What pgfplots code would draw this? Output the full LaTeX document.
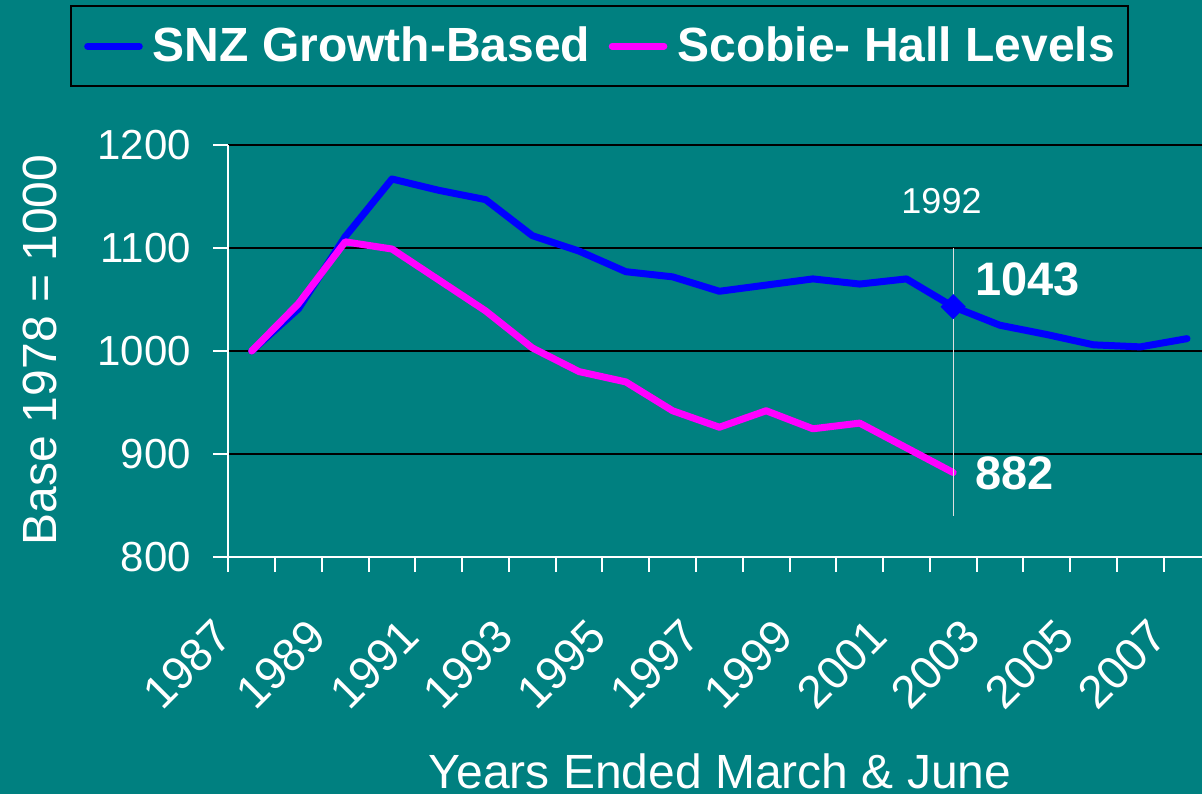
\documentclass[border=0pt]{standalone}
\usepackage{fontspec}
\setmainfont{Liberation Sans}
\usepackage{pgfplots}
\pgfplotsset{compat=1.18}
\definecolor{bgteal}{RGB}{0,128,128}
\definecolor{snzblue}{RGB}{0,0,255}
\definecolor{shpink}{RGB}{255,0,255}
\begin{document}
\begin{tikzpicture}
\fill[bgteal] (0,0) rectangle (601pt,397pt);
\begin{axis}[
  at={(114.15pt,118.5pt)}, anchor=south west,
  scale only axis, width=486.85pt, height=206pt,
  xmin=-0.5, xmax=20.32, ymin=800, ymax=1200,
  axis x line*=bottom, axis y line*=left,
  axis line style={white, line width=1pt, -},
  /pgf/number format/assume math mode=true,
  /pgf/number format/1000 sep={},
  ytick={800,900,...,1200},
  ymajorgrids, grid style={black, line width=1pt},
  xtick={-0.5,0.5,...,19.5}, xticklabels={},
  extra x ticks={0,2,...,20},
  extra x tick labels={1987,1989,1991,1993,1995,1997,1999,2001,2003,2005,2007},
  extra x tick style={major tick length=0pt, grid=none,
    xticklabel style={xshift=-14pt, yshift=-35.5pt, rotate=45, anchor=east, inner sep=0pt, font=\fontsize{23}{23}\selectfont}},
  tick align=outside, major tick length=7.5pt,
  tick style={white, line width=1pt},
  ticklabel style={text=white, font=\fontsize{21}{21}\selectfont},
  yticklabel style={anchor=east, inner sep=0pt, xshift=-11pt},
  ylabel={Base 1978 = 1000},
  ylabel style={at={(axis description cs:-0.1934,0.502)}, anchor=center, inner sep=0pt, text=white, font=\fontsize{24}{24}\selectfont},
  xlabel={Years Ended March \& June},
  xlabel style={at={(axis description cs:0.505,-0.52)}, anchor=center, inner sep=0pt, text=white, font=\fontsize{24}{24}\selectfont},
  legend columns=2,
  legend style={at={(axis description cs:-0.1626,1.3398)}, anchor=north west,
    draw=black, line width=1.2pt, fill=bgteal, inner xsep=6.5pt, inner ysep=10.5pt,
    column sep=0pt, cells={anchor=center},
    nodes={inner sep=0pt, text=white, font=\bfseries\fontsize{24}{24}\selectfont},
    /tikz/every odd column/.append style={column sep=5pt},
    /tikz/every even column/.append style={column sep=9.3pt}},
  legend image code/.code={\draw[#1, line width=3.5pt, line cap=round] (1.75pt,0pt) -- (27.55pt,0pt);},
]
\addplot[snzblue, line width=3.5pt, line cap=round, line join=round] coordinates {
 (0,1000) (1,1041) (2,1111) (3,1167) (4,1156) (5,1147) (6,1112) (7,1097)
 (8,1077) (9,1072) (10,1058) (11,1064) (12,1070) (13,1065) (14,1070)
 (15,1043) (16,1025) (17,1016) (18,1006) (19,1004) (20,1012)};
\addlegendentry{SNZ Growth-Based}
\addplot[shpink, line width=3.5pt, line cap=round, line join=round] coordinates {
 (0,1000) (1,1046) (2,1106) (3,1099) (4,1069) (5,1039) (6,1003) (7,980)
 (8,970) (9,942) (10,926) (11,942) (12,924.5) (13,930) (14,906) (15,882)};
\addlegendentry{Scobie- Hall Levels}
\addplot[snzblue, only marks, mark=square*, mark size=4.24pt, mark options={rotate=45}, forget plot] coordinates {(15,1043)};
\addplot[white!75!gray, line width=0.5pt, forget plot] coordinates {(15,1100) (15,840)};
\node[anchor=west, inner sep=0pt, text=white, font=\bfseries\fontsize{23.5}{23.5}\selectfont] at (axis cs:15.47,1070) {1043};
\node[anchor=west, inner sep=0pt, text=white, font=\bfseries\fontsize{23.5}{23.5}\selectfont] at (axis cs:15.47,881) {882};
\node[anchor=center, inner sep=0pt, text=white, font=\fontsize{18}{18}\selectfont] at (axis cs:14.75,1145.5) {1992};
\end{axis}
\pgfresetboundingbox
\useasboundingbox (0,0) rectangle (601pt,397pt);
\end{tikzpicture}
\end{document}
